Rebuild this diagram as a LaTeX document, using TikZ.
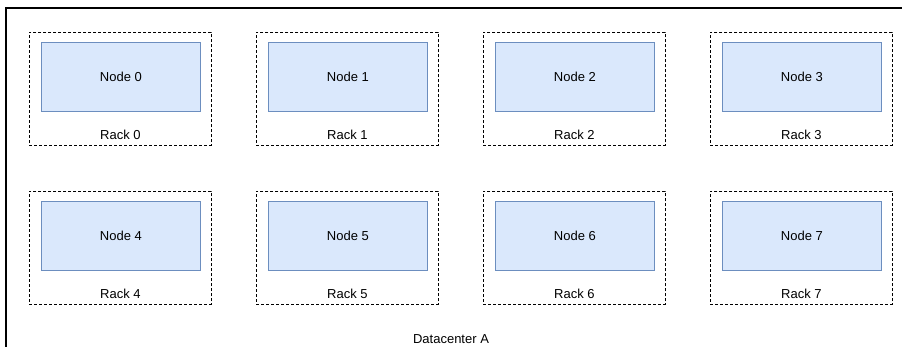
\documentclass[tikz,border=0pt]{standalone}
\usepackage{fontspec}
\setmainfont{Liberation Sans}
\usetikzlibrary{calc}
\begin{document}
\begin{tikzpicture}[x=1pt,y=-1pt,
  rackbox/.style={draw=black, line width=0.9pt, dash pattern=on 3pt off 2pt, minimum width=182pt, minimum height=113pt, inner sep=0pt},
  nodebox/.style={draw=nodeborder, fill=nodefill, line width=0.9pt, minimum width=159pt, minimum height=69pt, inner sep=0pt, font=\fontsize{13}{15}\selectfont},
  lbl/.style={font=\fontsize{13}{15}\selectfont, inner sep=0pt}
]
\definecolor{nodefill}{HTML}{DAE8FC}
\definecolor{nodeborder}{HTML}{6C8EBF}
\useasboundingbox (0,0) rectangle (902,347);
\begin{scope}
\clip (0,0) rectangle (902,347);
\draw[line width=1.2pt] (6,8) rectangle (920,370);
\end{scope}
\foreach \i in {0,...,7}{
  \pgfmathtruncatemacro{\col}{mod(\i,4)}
  \pgfmathtruncatemacro{\row}{div(\i,4)}
  \pgfmathsetmacro{\rx}{29+227*\col}
  \pgfmathsetmacro{\ry}{32+159*\row}
  \node[rackbox, anchor=north west] (rack\i) at (\rx,\ry) {};
  \node[nodebox, anchor=north west] (node\i) at (\rx+12,\ry+10) {Node \i};
  \node[lbl] (racklbl\i) at ($(rack\i.south)+(0,-11)$) {Rack \i};
}
\node[lbl] (dc) at (451,339) {Datacenter A};
\end{tikzpicture}
\end{document}
